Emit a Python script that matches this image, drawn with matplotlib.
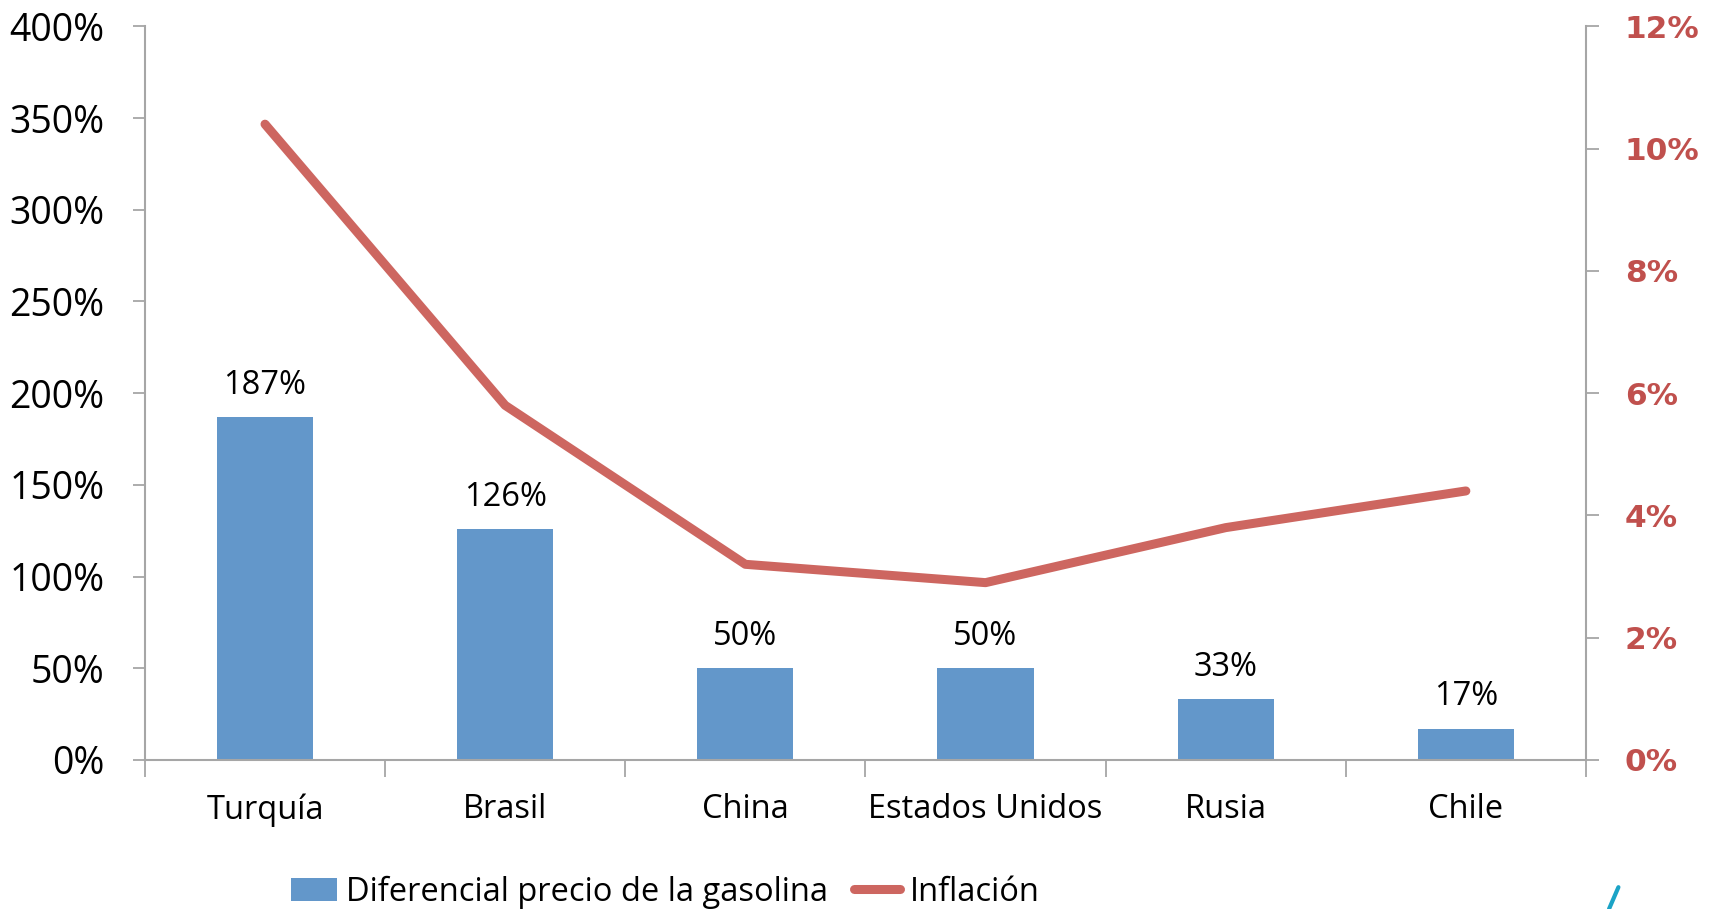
import matplotlib.pyplot as plt
from matplotlib.ticker import FuncFormatter, MultipleLocator
from matplotlib.lines import Line2D
from matplotlib.patches import Patch

categories = ["Turquía", "Brasil", "China", "Estados Unidos", "Rusia", "Chile"]
diferencial = [187, 126, 50, 50, 33, 17]      # % diferencial precio gasolina
inflacion = [10.4, 5.8, 3.2, 2.9, 3.8, 4.4]   # % inflación

bar_color = "#6397CA"
line_color = "#CD6660"
axis_gray = "#A6A6A6"
red_txt = "#C0504D"

fig = plt.figure(figsize=(17.09, 9.09), dpi=100)
ax = fig.add_axes([0.0848, 0.164, 0.8432, 0.807])
x = list(range(len(categories)))

ax.bar(x, diferencial, width=0.4, color=bar_color, zorder=2)
for xi, v in zip(x, diferencial):
    ax.annotate(f"{v}%", (xi, v), xytext=(0, 11), textcoords="offset points",
                ha="center", va="bottom", fontsize=23.5, family="Open Sans")

ax.set_xlim(-0.5, len(categories) - 0.5)
ax.set_ylim(0, 400)
ax.yaxis.set_major_locator(MultipleLocator(50))
ax.yaxis.set_major_formatter(FuncFormatter(lambda v, p: f"{v:.0f}%"))
ax.set_xticks(x)
ax.set_xticklabels(categories, fontsize=23.5, family="Open Sans")
ax.tick_params(axis="x", length=0, pad=24)
ax.set_xticks([i - 0.5 for i in range(len(categories) + 1)], minor=True)
ax.tick_params(axis="x", which="minor", length=12, width=1.3, color=axis_gray)
ax.tick_params(axis="y", length=9, width=1.3, color=axis_gray, labelsize=27, pad=20)
for lab in ax.get_yticklabels():
    lab.set_family("Open Sans")

for s in ["top", "right"]:
    ax.spines[s].set_visible(False)
for s in ["left", "bottom"]:
    ax.spines[s].set_color(axis_gray)
    ax.spines[s].set_linewidth(1.5)

ax2 = ax.twinx()
ax2.plot(x, inflacion, color=line_color, linewidth=6.5, solid_capstyle="round",
         solid_joinstyle="round", zorder=3)
ax2.set_ylim(0, 12)
ax2.yaxis.set_major_locator(MultipleLocator(2))
ax2.yaxis.set_major_formatter(FuncFormatter(lambda v, p: f"{v:.0f}%"))
ax2.tick_params(axis="y", length=9, width=1.3, color=axis_gray, labelsize=22.5,
                labelcolor=red_txt, pad=19)
for lab in ax2.get_yticklabels():
    lab.set_fontweight("bold")
for s in ["top", "left", "bottom"]:
    ax2.spines[s].set_visible(False)
ax2.spines["right"].set_color(axis_gray)
ax2.spines["right"].set_linewidth(1.5)

handles = [Patch(facecolor=bar_color, edgecolor="none"),
           Line2D([0], [0], color=line_color, linewidth=6.5, solid_capstyle="round")]
leg = fig.legend(handles, ["Diferencial precio de la gasolina", "Inflación"],
                 loc="lower left", bbox_to_anchor=(0.153, -0.032), ncol=2, frameon=False,
                 prop={"family": "Open Sans", "size": 23.5},
                 handlelength=1.4, handletextpad=0.3, columnspacing=0.8)

# trozo de logo en la esquina inferior derecha
fig.add_artist(Line2D([0.9415, 0.947], [0.0, 0.024], color="#1BA3C6", linewidth=3,
                      solid_capstyle="round"))

fig.savefig("out.png", dpi=100)
